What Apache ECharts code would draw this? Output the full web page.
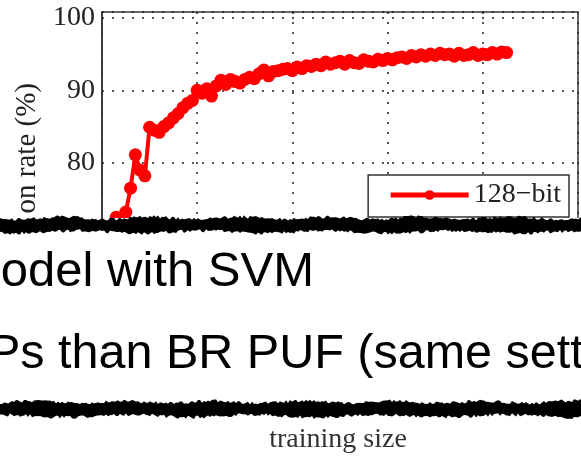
<!DOCTYPE html>
<html>
<head>
<meta charset="utf-8">
<script src="https://cdn.jsdelivr.net/npm/echarts@6/dist/echarts.min.js"></script>
<style>
  html, body { margin: 0; padding: 0; background: #fff; }
  #chart { width: 581px; height: 456px; }
</style>
</head>
<body>
<div id="chart"></div>
<script>
// 训练样本数与预测率
const trainingSizes = [
  50, 100, 150, 200, 250, 300, 350, 400, 450, 500,
  550, 600, 650, 700, 750, 800, 850, 900, 950, 1000,
  1050, 1100, 1150, 1200, 1250, 1300, 1350, 1400, 1450, 1500,
  1550, 1600, 1650, 1700, 1750, 1800, 1850, 1900, 1950, 2000,
  2050, 2100, 2150, 2200, 2250, 2300, 2350, 2400, 2450, 2500,
  2550, 2600, 2650, 2700, 2750, 2800, 2850, 2900, 2950, 3000,
  3050, 3100, 3150, 3200, 3250, 3300, 3350, 3400, 3450, 3500,
  3550, 3600, 3650, 3700, 3750, 3800, 3850, 3900, 3950, 4000,
  4050, 4100, 4150, 4200, 4250
];
const rate128 = [
  66.0, 71.0, 72.5, 72.2, 73.2, 76.5, 81.1, 79.0, 78.2, 84.9,
  84.5, 84.2, 85.0, 85.5, 86.2, 86.8, 87.6, 88.2, 88.6, 90.0,
  89.6, 90.2, 89.2, 90.6, 91.4, 90.8, 91.5, 91.2, 91.0, 91.5,
  91.8, 91.6, 92.3, 92.8, 92.0, 92.6, 92.7, 92.9, 93.0, 92.7,
  93.2, 93.0, 93.4, 93.3, 93.6, 93.4, 93.9, 93.6, 93.8, 94.0,
  93.6, 94.1, 93.8, 93.7, 94.2, 94.0, 93.9, 94.3, 94.1, 94.4,
  94.2, 94.5, 94.6, 94.4, 94.8, 94.6, 94.9, 94.7, 95.0, 94.8,
  95.1, 94.9, 95.0, 94.7, 95.1, 94.8, 94.9, 95.2, 94.8, 95.0,
  94.9, 95.2, 95.0, 95.3, 95.2
];
const seriesName = '128\u2212bit';
const yTicks = [50, 60, 70, 80, 90, 100];

// 幻灯片上的文字
const slideLine1 = 'model with SVM';
const slideLine2 = 'Ps than BR PUF (same sett';
const yName = 'on rate (%)';
const xName = 'training size';

const serif = "'Liberation Serif', 'Times New Roman', serif";
const sans = "'Liberation Sans', Arial, sans-serif";

// 撕纸边缘的抖动，只用于装饰
function jitter(i, seed) {
  const s = Math.sin(i * 12.9898 + seed * 78.233) * 43758.5453;
  return s - Math.floor(s);
}
function tornBand(y0, y1, seed) {
  const top = [], bot = [];
  let i = 0;
  for (let x = -4; x <= 588; x += 2, i++) {
    top.push([x, y0 + 1.2 * Math.sin(x * 0.07 + seed) + (jitter(i, seed) - 0.5) * 3.2]);
    bot.push([x, y1 + 1.3 * Math.sin(x * 0.05 + seed * 2) + (jitter(i, seed + 7) - 0.5) * 3.4]);
  }
  return top.concat(bot.reverse());
}
function flecks(y0, y1, seed) {
  const out = [];
  for (let i = 0; i < 70; i++) {
    out.push({
      type: 'rect',
      shape: {
        x: jitter(i, seed + 3) * 585 - 2,
        y: y0 + 2 + jitter(i, seed + 5) * (y1 - y0 - 4),
        width: 2 + jitter(i, seed + 9) * 7,
        height: 1 + Math.round(jitter(i, seed + 11))
      },
      style: { fill: '#fff' }
    });
  }
  return out;
}

let chart = echarts.init(document.getElementById('chart'), null, { renderer: 'canvas' });

let option = {
  animation: false,
  backgroundColor: '#fff',
  grid: {
    left: 102,
    top: 12,
    width: 476,
    height: 368.3,
    show: true,
    borderColor: '#333',
    borderWidth: 1.5,
    outerBoundsMode: 'none'
  },
  xAxis: {
    type: 'value',
    min: 0,
    max: 5000,
    interval: 1000,
    axisLine: { show: false },
    axisTick: { show: false },
    axisLabel: { show: false },
    splitLine: { show: true, lineStyle: { color: '#222', width: 1.5, type: [2, 8] } }
  },
  yAxis: {
    type: 'value',
    min: yTicks[0],
    max: 100.8,
    interval: 10,
    axisLine: { show: true, lineStyle: { color: '#333', width: 1.5 } },
    axisTick: { show: false },
    axisLabel: {
      margin: 7,
      color: '#222',
      fontFamily: serif,
      fontSize: 28,
      formatter: function (v) { return yTicks.indexOf(v) >= 0 ? String(v) : ''; }
    },
    splitLine: { show: true, lineStyle: { color: '#222', width: 1.5, type: [2, 8] } }
  },
  legend: {
    right: 12,
    top: 175,
    data: [seriesName],
    itemWidth: 78,
    itemHeight: 12,
    padding: [5, 8, 7, 20],
    borderColor: '#333',
    borderWidth: 1.5,
    backgroundColor: '#fff',
    lineStyle: { width: 5 },
    textStyle: { fontFamily: serif, fontSize: 28, color: '#222', lineHeight: 30 }
  },
  series: [
    {
      name: seriesName,
      type: 'line',
      data: trainingSizes.map((s, i) => [s, rate128[i]]),
      symbol: 'circle',
      symbolSize: 13,
      lineStyle: { color: '#ff0000', width: 4 },
      itemStyle: { color: '#ff0000' }
    }
  ],
  graphic: [
    {
      type: 'text', x: 27, y: 83, rotation: Math.PI / 2, z: 50,
      style: { text: yName, fill: '#222', font: '29px ' + serif, align: 'right', verticalAlign: 'middle' }
    },
    { type: 'rect', z: 100, shape: { x: 0, y: 218, width: 581, height: 238 }, style: { fill: '#fff' } },
    { type: 'polygon', z: 101, shape: { points: tornBand(218, 232, 0.4) }, style: { fill: '#000' } },
    { type: 'group', z: 102, children: flecks(218, 232, 1.1) },
    { type: 'polygon', z: 101, shape: { points: tornBand(402, 416, 2.3) }, style: { fill: '#000' } },
    { type: 'group', z: 102, children: flecks(402, 416, 2.9) },
    {
      type: 'text', x: -40, y: 272, z: 103,
      style: { text: slideLine1, fill: '#000', font: '49px ' + sans, align: 'left', verticalAlign: 'middle' }
    },
    {
      type: 'text', x: -12, y: 355, z: 103,
      style: { text: slideLine2, fill: '#000', font: '48.5px ' + sans, align: 'left', verticalAlign: 'middle' }
    },
    {
      type: 'text', x: 338, y: 440, z: 103,
      style: { text: xName, fill: '#333', font: '28px ' + serif, align: 'center', verticalAlign: 'middle' }
    }
  ]
};

chart.setOption(option);
</script>
</body>
</html>
